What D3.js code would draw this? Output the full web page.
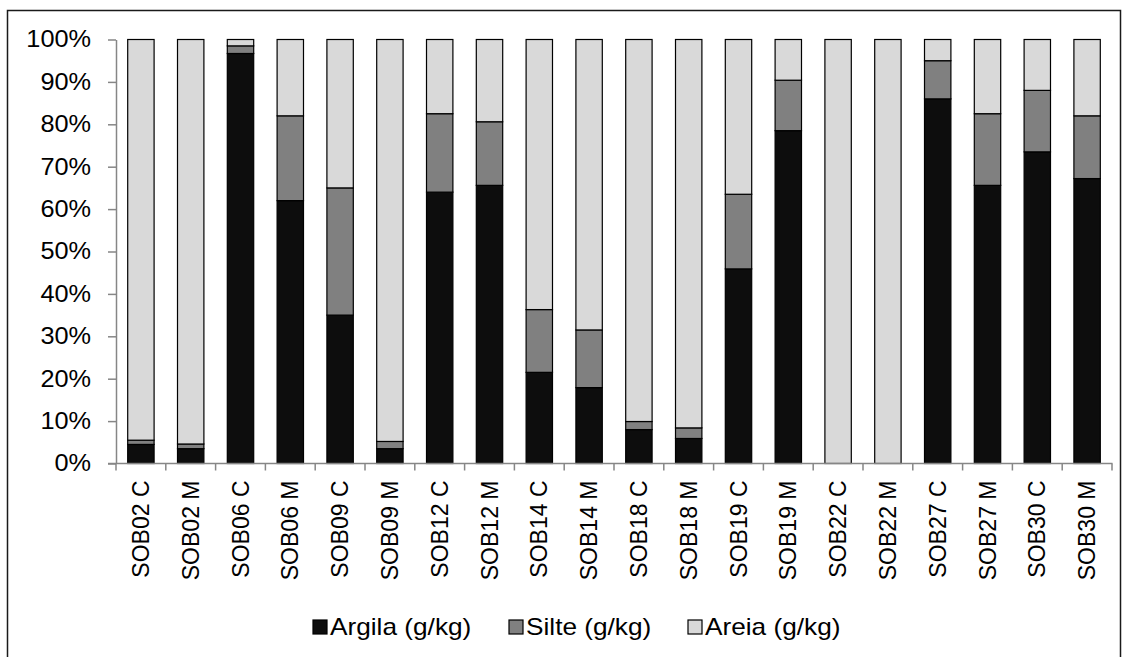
<!DOCTYPE html>
<html>
<head>
<meta charset="utf-8">
<script src="https://cdn.jsdelivr.net/npm/d3@7"></script>
<style>
  html, body { margin: 0; padding: 0; background: #fff; }
  svg { display: block; }
  text { font-family: "Liberation Sans", Arial, sans-serif; fill: #000; }
</style>
</head>
<body>
<svg id="chart" width="1129" height="657"></svg>
<script>
// Sample identifiers (profile + layer)
const categories = ["SOB02 C","SOB02 M","SOB06 C","SOB06 M","SOB09 C","SOB09 M",
  "SOB12 C","SOB12 M","SOB14 C","SOB14 M","SOB18 C","SOB18 M","SOB19 C","SOB19 M",
  "SOB22 C","SOB22 M","SOB27 C","SOB27 M","SOB30 C","SOB30 M"];

// Particle-size fractions, g/kg
const argila = [45, 35, 967, 620, 350, 35, 640, 656, 215, 179, 80, 59, 459, 785, 0, 0, 860, 656, 735, 672];
const silte  = [10, 11, 18, 200, 300, 17, 185, 150, 148, 136, 19, 25, 176, 119, 0, 0, 90, 169, 145, 148];
const areia  = [945, 954, 15, 180, 350, 948, 175, 194, 637, 685, 901, 916, 365, 96, 1000, 1000, 50, 175, 120, 180];

const yTicks = [0, 0.1, 0.2, 0.3, 0.4, 0.5, 0.6, 0.7, 0.8, 0.9, 1.0];

const seriesKeys = ["argila", "silte", "areia"];
const seriesNames = ["Argila (g/kg)", "Silte (g/kg)", "Areia (g/kg)"];
const seriesColors = ["#0d0d0d", "#808080", "#d9d9d9"];

const rows = categories.map((c, i) => ({ cat: c, argila: argila[i], silte: silte[i], areia: areia[i] }));

const svg = d3.select("#chart");

// outer frame
svg.append("rect")
  .attr("x", 7.5).attr("y", 10.5)
  .attr("width", 1113).attr("height", 700)
  .attr("fill", "none").attr("stroke", "#1a1a1a").attr("stroke-width", 1.5);

const x = d3.scaleBand()
  .domain(categories)
  .range([116, 1112])
  .paddingInner(0.47)
  .paddingOuter(0.235);

const y = d3.scaleLinear().domain([0, 1]).range([463.5, 39.5]);

const stack = d3.stack().keys(seriesKeys).offset(d3.stackOffsetExpand);
const stacked = stack(rows);

const color = d3.scaleOrdinal().domain(seriesKeys).range(seriesColors);

// stacked bars
svg.append("g")
  .selectAll("g")
  .data(stacked)
  .join("g")
  .attr("fill", d => color(d.key))
  .selectAll("rect")
  .data(d => d)
  .join("rect")
  .attr("x", d => x(d.data.cat))
  .attr("y", d => y(d[1]))
  .attr("width", x.bandwidth())
  .attr("height", d => Math.max(0, y(d[0]) - y(d[1])))
  .attr("stroke", "#000")
  .attr("stroke-width", 1.2)
  .attr("display", d => (d[1] - d[0]) > 0 ? null : "none");

// y axis
const yAxis = svg.append("g")
  .attr("transform", "translate(116,0)")
  .call(d3.axisLeft(y).tickValues(yTicks).tickFormat(d3.format(".0%")).tickSizeInner(8).tickSizeOuter(0));
yAxis.select(".domain").attr("stroke", "#868686").attr("stroke-width", 1.5);
yAxis.selectAll(".tick line").attr("stroke", "#868686").attr("stroke-width", 1.5);
yAxis.selectAll(".tick text")
  .attr("x", 0)
  .attr("transform", "translate(-25,0) scale(1.1,1)")
  .attr("font-size", 23)
  .attr("font-family", "'Liberation Sans', Arial, sans-serif")
  .attr("fill", "#000");

// x axis: ticks at band boundaries
const xAxisG = svg.append("g").attr("transform", `translate(0,${y(0)})`);
xAxisG.append("line")
  .attr("x1", 108).attr("x2", 1112.5)
  .attr("y1", 0).attr("y2", 0)
  .attr("stroke", "#868686").attr("stroke-width", 1.5);
const bounds = categories.map(c => x(c) - x.step() * x.paddingInner() / 2).concat([1112]);
xAxisG.selectAll("line.tk")
  .data(bounds)
  .join("line")
  .attr("class", "tk")
  .attr("x1", d => d).attr("x2", d => d)
  .attr("y1", 0).attr("y2", 7)
  .attr("stroke", "#868686").attr("stroke-width", 1.5);

// rotated category labels
xAxisG.selectAll("text.cat")
  .data(categories)
  .join("text")
  .attr("class", "cat")
  .attr("font-size", 23)
  .attr("text-anchor", "end")
  .attr("dominant-baseline", "central")
  .attr("transform", d => `translate(${x(d) + x.bandwidth() / 2},${17}) rotate(-90)`)
  .text(d => d);

// legend
const legendX = [313, 509, 688];
const legend = svg.append("g").attr("transform", "translate(0,627)");
const items = legend.selectAll("g")
  .data(seriesKeys)
  .join("g")
  .attr("transform", (d, i) => `translate(${legendX[i]},0)`);
items.append("rect")
  .attr("x", 0).attr("y", -7)
  .attr("width", 14).attr("height", 14)
  .attr("fill", d => color(d))
  .attr("stroke", "#000").attr("stroke-width", 1.2);
items.append("text")
  .attr("transform", "translate(17,0) scale(1.14,1)")
  .attr("dominant-baseline", "central")
  .attr("font-size", 23)
  .text((d, i) => seriesNames[i]);
</script>
</body>
</html>
